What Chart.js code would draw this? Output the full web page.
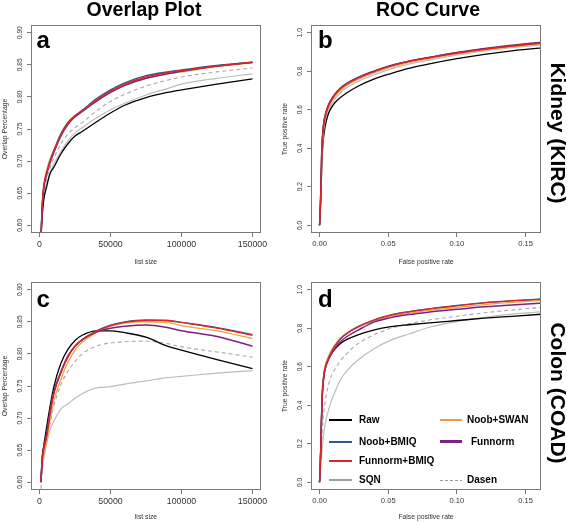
<!DOCTYPE html>
<html><head><meta charset="utf-8">
<script src="https://cdn.jsdelivr.net/npm/chart.js@4.4.1/dist/chart.umd.min.js"></script>
<style>
html,body{margin:0;padding:0;background:#fff;}
body{width:567px;height:522px;position:relative;overflow:hidden;font-family:"Liberation Sans",Arial,Helvetica,sans-serif;}
canvas{position:absolute;}
.t{position:absolute;transform:translate(-50%,-50%);white-space:nowrap;line-height:1;font-weight:bold;color:#000;}
.lt{position:absolute;white-space:nowrap;line-height:1;font-weight:bold;color:#000;}
.lg{position:absolute;}
</style></head><body>
<canvas id="ca" width="280" height="268" style="left:0;top:0"></canvas>
<canvas id="cb" width="287" height="268" style="left:280px;top:0"></canvas>
<canvas id="cc" width="280" height="266" style="left:0;top:256px"></canvas>
<canvas id="cd" width="287" height="266" style="left:280px;top:256px"></canvas>
<div id="texts"></div>
<script>
// ---------- DATA ----------
const listSize = [1000, 2000, 3000, 5000, 7500, 10000, 15000, 20000, 25000, 30000, 40000, 50000, 60000, 75000, 90000, 100000, 125000, 150000];
const fpr = [0, 0.0005, 0.001, 0.0015, 0.002, 0.003, 0.004, 0.006, 0.008, 0.011, 0.015, 0.02, 0.028, 0.04, 0.052, 0.065, 0.08, 0.1, 0.12, 0.14, 0.17];

// Panel a: Kidney (KIRC) overlap
const kircOverlapRaw        = [0.580, 0.617, 0.640, 0.660, 0.681, 0.690, 0.711, 0.727, 0.739, 0.746, 0.761, 0.775, 0.787, 0.799, 0.807, 0.811, 0.820, 0.828];
const kircOverlapNoobBMIQ   = [0.580, 0.635, 0.661, 0.682, 0.701, 0.716, 0.742, 0.760, 0.771, 0.779, 0.797, 0.811, 0.822, 0.833, 0.839, 0.842, 0.849, 0.854];
const kircOverlapFunBMIQ    = [0.580, 0.633, 0.659, 0.680, 0.699, 0.714, 0.740, 0.758, 0.770, 0.778, 0.795, 0.809, 0.820, 0.831, 0.838, 0.841, 0.848, 0.854];
const kircOverlapSQN        = [0.580, 0.620, 0.645, 0.665, 0.682, 0.695, 0.715, 0.732, 0.744, 0.752, 0.767, 0.780, 0.790, 0.803, 0.813, 0.820, 0.829, 0.836];
const kircOverlapNoobSWAN   = [0.580, 0.638, 0.664, 0.686, 0.704, 0.717, 0.743, 0.761, 0.771, 0.779, 0.794, 0.807, 0.818, 0.829, 0.836, 0.839, 0.847, 0.853];
const kircOverlapFunnorm    = [0.580, 0.632, 0.658, 0.679, 0.698, 0.713, 0.739, 0.757, 0.769, 0.777, 0.793, 0.807, 0.818, 0.829, 0.836, 0.840, 0.848, 0.854];
const kircOverlapDasen      = [0.580, 0.625, 0.651, 0.672, 0.690, 0.704, 0.727, 0.742, 0.752, 0.760, 0.778, 0.793, 0.804, 0.817, 0.826, 0.831, 0.839, 0.845];

// Panel c: Colon (COAD) overlap
const coadOverlapRaw        = [0.605, 0.641, 0.657, 0.686, 0.719, 0.748, 0.785, 0.807, 0.821, 0.829, 0.836, 0.836, 0.833, 0.826, 0.812, 0.806, 0.791, 0.777];
const coadOverlapNoobBMIQ   = [0.600, 0.638, 0.653, 0.673, 0.710, 0.738, 0.771, 0.796, 0.812, 0.822, 0.836, 0.845, 0.850, 0.853, 0.852, 0.849, 0.841, 0.830];
const coadOverlapFunBMIQ    = [0.600, 0.637, 0.652, 0.671, 0.708, 0.737, 0.770, 0.795, 0.812, 0.822, 0.835, 0.844, 0.849, 0.852, 0.852, 0.849, 0.840, 0.829];
const coadOverlapSQN        = [0.600, 0.625, 0.639, 0.660, 0.682, 0.695, 0.714, 0.722, 0.731, 0.738, 0.747, 0.749, 0.753, 0.758, 0.763, 0.765, 0.770, 0.774];
const coadOverlapNoobSWAN   = [0.600, 0.628, 0.643, 0.662, 0.698, 0.726, 0.760, 0.787, 0.806, 0.818, 0.833, 0.843, 0.848, 0.850, 0.849, 0.844, 0.836, 0.824];
const coadOverlapFunnorm    = [0.600, 0.640, 0.655, 0.676, 0.712, 0.740, 0.772, 0.797, 0.812, 0.822, 0.834, 0.840, 0.843, 0.845, 0.841, 0.836, 0.827, 0.812];
const coadOverlapDasen      = [0.590, 0.620, 0.637, 0.665, 0.692, 0.718, 0.752, 0.773, 0.788, 0.800, 0.812, 0.817, 0.819, 0.820, 0.816, 0.811, 0.803, 0.795];

// Panel b: Kidney (KIRC) ROC
const kircRocRaw      = [0, 0.06, 0.15, 0.28, 0.37, 0.46, 0.51, 0.570, 0.603, 0.635, 0.662, 0.688, 0.722, 0.760, 0.788, 0.815, 0.838, 0.865, 0.888, 0.906, 0.926];
const kircRocNoobBMIQ = [0, 0.08, 0.20, 0.36, 0.45, 0.53, 0.57, 0.618, 0.648, 0.680, 0.712, 0.738, 0.768, 0.802, 0.831, 0.853, 0.872, 0.896, 0.916, 0.932, 0.953];
const kircRocFunBMIQ  = [0, 0.08, 0.20, 0.35, 0.44, 0.525, 0.565, 0.612, 0.643, 0.676, 0.708, 0.735, 0.765, 0.799, 0.828, 0.851, 0.870, 0.894, 0.914, 0.931, 0.952];
const kircRocSQN      = [0, 0.06, 0.16, 0.30, 0.40, 0.49, 0.535, 0.588, 0.620, 0.653, 0.687, 0.715, 0.747, 0.782, 0.812, 0.837, 0.858, 0.883, 0.905, 0.922, 0.942];
const kircRocNoobSWAN = [0, 0.05, 0.14, 0.28, 0.38, 0.49, 0.545, 0.600, 0.632, 0.666, 0.700, 0.727, 0.758, 0.792, 0.821, 0.845, 0.865, 0.889, 0.909, 0.926, 0.946];
const kircRocFunnorm  = [0, 0.08, 0.19, 0.35, 0.44, 0.525, 0.565, 0.613, 0.645, 0.678, 0.710, 0.736, 0.766, 0.800, 0.829, 0.852, 0.872, 0.897, 0.918, 0.935, 0.956];
const kircRocDasen    = [0, 0.07, 0.18, 0.33, 0.42, 0.51, 0.553, 0.603, 0.635, 0.668, 0.700, 0.728, 0.759, 0.794, 0.824, 0.848, 0.868, 0.892, 0.913, 0.930, 0.950];

// Panel d: Colon (COAD) ROC
const coadRocRaw      = [0, 0.08, 0.21, 0.35, 0.46, 0.55, 0.595, 0.640, 0.665, 0.690, 0.720, 0.742, 0.766, 0.792, 0.808, 0.818, 0.828, 0.840, 0.852, 0.862, 0.877];
const coadRocNoobBMIQ = [0, 0.08, 0.20, 0.34, 0.45, 0.54, 0.589, 0.633, 0.666, 0.704, 0.743, 0.774, 0.808, 0.844, 0.869, 0.886, 0.901, 0.918, 0.933, 0.943, 0.955];
const coadRocFunBMIQ  = [0, 0.08, 0.20, 0.34, 0.45, 0.54, 0.588, 0.632, 0.665, 0.703, 0.742, 0.773, 0.807, 0.843, 0.868, 0.885, 0.900, 0.917, 0.932, 0.942, 0.954];
const coadRocSQN      = [0, 0.04, 0.09, 0.13, 0.175, 0.25, 0.30, 0.360, 0.410, 0.465, 0.530, 0.580, 0.635, 0.695, 0.738, 0.770, 0.805, 0.835, 0.857, 0.873, 0.890];
const coadRocNoobSWAN = [0, 0.09, 0.22, 0.36, 0.47, 0.555, 0.60, 0.645, 0.677, 0.712, 0.748, 0.776, 0.806, 0.838, 0.861, 0.878, 0.893, 0.909, 0.923, 0.934, 0.947];
const coadRocFunnorm  = [0, 0.08, 0.20, 0.34, 0.45, 0.54, 0.585, 0.628, 0.658, 0.692, 0.728, 0.757, 0.790, 0.833, 0.855, 0.871, 0.884, 0.898, 0.911, 0.921, 0.933];
const coadRocDasen    = [0, 0.05, 0.12, 0.20, 0.27, 0.36, 0.41, 0.490, 0.540, 0.585, 0.628, 0.670, 0.720, 0.767, 0.800, 0.823, 0.843, 0.862, 0.880, 0.895, 0.913];

// tick labels
const overlapXTicks = [0, 50000, 100000, 150000];
const overlapYTicks = [0.60, 0.65, 0.70, 0.75, 0.80, 0.85, 0.90];
const rocXTicks = [0, 0.05, 0.10, 0.15];
const rocYTicks = [0, 0.2, 0.4, 0.6, 0.8, 1.0];

const methodNames = ['Raw', 'Noob+BMIQ', 'Funnorm+BMIQ', 'SQN', 'Noob+SWAN', 'Funnorm', 'Dasen'];
const legendEntries = ['Raw', 'Noob+BMIQ', 'Funnorm+BMIQ', 'SQN', 'Noob+SWAN', 'Funnorm', '', 'Dasen'];

// ---------- STYLES ----------
const STYLE = {
  'Raw':          {color:'#000000', width:1.3, legendColor:'#000000', legendWidth:2},
  'Noob+BMIQ':    {color:'#2E5B8C', width:1.3, legendColor:'#2E5B8C', legendWidth:2},
  'Funnorm+BMIQ': {color:'#D9262B', width:1.3, legendColor:'#D9262B', legendWidth:2},
  'SQN':          {color:'#BDBDBD', width:1.2, legendColor:'#9E9E9E', legendWidth:2},
  'Noob+SWAN':    {color:'#F5A33A', width:1.3, legendColor:'#EB9A4A', legendWidth:2},
  'Funnorm':      {color:'#7D2181', width:1.5, legendColor:'#7D2181', legendWidth:3},
  'Dasen':        {color:'#A8A8A8', width:1.1, dash:[4,3], legendColor:'#999999', legendWidth:1}
};
const DRAW_ORDER = ['SQN', 'Dasen', 'Raw', 'Noob+SWAN', 'Noob+BMIQ', 'Funnorm', 'Funnorm+BMIQ'];
const FONT = '"Liberation Sans", Arial, Helvetica, sans-serif';

const panelSeries = {
  a: {xs: listSize, s: {'Raw':kircOverlapRaw,'Noob+BMIQ':kircOverlapNoobBMIQ,'Funnorm+BMIQ':kircOverlapFunBMIQ,'SQN':kircOverlapSQN,'Noob+SWAN':kircOverlapNoobSWAN,'Funnorm':kircOverlapFunnorm,'Dasen':kircOverlapDasen}},
  b: {xs: fpr, s: {'Raw':kircRocRaw,'Noob+BMIQ':kircRocNoobBMIQ,'Funnorm+BMIQ':kircRocFunBMIQ,'SQN':kircRocSQN,'Noob+SWAN':kircRocNoobSWAN,'Funnorm':kircRocFunnorm,'Dasen':kircRocDasen}},
  c: {xs: listSize, s: {'Raw':coadOverlapRaw,'Noob+BMIQ':coadOverlapNoobBMIQ,'Funnorm+BMIQ':coadOverlapFunBMIQ,'SQN':coadOverlapSQN,'Noob+SWAN':coadOverlapNoobSWAN,'Funnorm':coadOverlapFunnorm,'Dasen':coadOverlapDasen}},
  d: {xs: fpr, s: {'Raw':coadRocRaw,'Noob+BMIQ':coadRocNoobBMIQ,'Funnorm+BMIQ':coadRocFunBMIQ,'SQN':coadRocSQN,'Noob+SWAN':coadRocNoobSWAN,'Funnorm':coadRocFunnorm,'Dasen':coadRocDasen}}
};

const boxPlugin = {
  id: 'rbox',
  afterDatasetsDraw(chart) {
    const {ctx, chartArea: a} = chart;
    ctx.save();
    ctx.strokeStyle = '#7a7a7a';
    ctx.lineWidth = 1;
    ctx.strokeRect(Math.round(a.left) + 0.5, Math.round(a.top) + 0.5, Math.round(a.right - a.left) - 1, Math.round(a.bottom - a.top) - 1);
    ctx.restore();
  }
};

const GRID = {display:true, drawOnChartArea:false, drawTicks:true, tickLength:4, color:'#7a7a7a', lineWidth:1};

function makeChart(id, key, cfg) {
  const P = panelSeries[key];
  const datasets = DRAW_ORDER.map((name, i) => ({
    label: name,
    data: P.xs.map((x, j) => ({x: x, y: P.s[name][j]})),
    borderColor: STYLE[name].color,
    borderWidth: STYLE[name].width,
    borderDash: STYLE[name].dash || [],
    pointRadius: 0,
    fill: false,
    cubicInterpolationMode: 'monotone',
    order: DRAW_ORDER.length - i
  }));
  return new Chart(document.getElementById(id), {
    type: 'line',
    data: {datasets},
    options: {
      responsive: false, animation: false, events: [],
      layout: {padding: cfg.padding},
      plugins: {legend: {display:false}, tooltip: {enabled:false}, title: {display:false}},
      scales: {
        x: {
          type: 'linear', min: cfg.xmin, max: cfg.xmax,
          afterBuildTicks: s => { s.ticks = cfg.xticks.map(v => ({value: v})); },
          afterFit: s => { s.height = cfg.xh; },
          ticks: {callback: cfg.xfmt, autoSkip: false, maxRotation: 0, minRotation: 0, padding: cfg.xtpad,
                  font: {family: FONT, size: cfg.xfs}, color: '#333'},
          grid: GRID, border: {display: false},
          title: {display: true, text: cfg.xtitle, color: '#333', font: {family: FONT, size: 6.8},
                  padding: {top: 0, bottom: cfg.xtitlePad}}
        },
        y: {
          type: 'linear', min: cfg.ymin, max: cfg.ymax,
          afterBuildTicks: s => { s.ticks = cfg.yticks.map(v => ({value: v})); },
          afterFit: s => { s.width = 31; },
          ticks: {callback: cfg.yfmt, autoSkip: false, minRotation: 90, maxRotation: 90, crossAlign: 'center',
                  padding: cfg.ytpad, font: {family: FONT, size: 6.6}, color: '#333'},
          grid: GRID, border: {display: false},
          title: {display: true, text: cfg.ytitle, color: '#333', font: {family: FONT, size: 6.8},
                  padding: {top: 1, bottom: 0}}
        }
      }
    },
    plugins: [boxPlugin]
  });
}

const overlapCommon = {xmin: -6000, xmax: 156000, ymin: 0.588, ymax: 0.912, xticks: overlapXTicks, yticks: overlapYTicks,
  xfmt: v => String(v), yfmt: v => Number(v).toFixed(2), xtitle: 'list size', ytitle: 'Overlap Percentage', xfs: 8.8, ytpad: 0.5};
const rocCommon = {xmin: -0.0062, xmax: 0.1612, ymin: -0.04, ymax: 1.04, xticks: rocXTicks, yticks: rocYTicks,
  xfmt: v => Number(v).toFixed(2), yfmt: v => Number(v).toFixed(1), xtitle: 'False positive rate', ytitle: 'True positive rate', xfs: 7.6, ytpad: 1.8};

makeChart('ca', 'a', Object.assign({}, overlapCommon, {padding: {top:25, right:19, bottom:0, left:0}, xh: 35, xtpad: 2.5, xtitlePad: 2}));
makeChart('cb', 'b', Object.assign({}, rocCommon,     {padding: {top:25, right:26, bottom:0, left:0}, xh: 35, xtpad: 2.5, xtitlePad: 2}));
makeChart('cc', 'c', Object.assign({}, overlapCommon, {padding: {top:26, right:19, bottom:0, left:0}, xh: 32, xtpad: 2, xtitlePad: 1.3}));
makeChart('cd', 'd', Object.assign({}, rocCommon,     {padding: {top:26, right:26, bottom:0, left:0}, xh: 32, xtpad: 2, xtitlePad: 1.3}));

// ---------- TEXT LABELS ----------
const texts = document.getElementById('texts');
function addText(txt, x, y, size, rot) {
  const d = document.createElement('div');
  d.className = 't';
  d.textContent = txt;
  d.style.left = x + 'px'; d.style.top = y + 'px'; d.style.fontSize = size + 'px';
  if (rot) d.style.transform = 'translate(-50%,-50%) rotate(' + rot + 'deg)';
  texts.appendChild(d);
}
addText('Overlap Plot', 144, 9.5, 19.5);
addText('ROC Curve', 428, 9.5, 19.5);
addText('Kidney (KIRC)', 557.5, 133, 21, 90);
addText('Colon (COAD)', 557.5, 393, 21, 90);

function addLetter(txt, x, baseline) {
  const d = document.createElement('div');
  d.className = 'lt';
  const fs = 24;
  d.textContent = txt;
  d.style.fontSize = fs + 'px';
  d.style.left = x + 'px';
  d.style.top = (baseline - 0.8465 * fs) + 'px';
  texts.appendChild(d);
}
addLetter('a', 36.5, 48.5);
addLetter('b', 318, 48.5);
addLetter('c', 36.5, 307);
addLetter('d', 318, 307);

// legend for panel d (two columns, filled column-wise)
const legendCols = [{lineX: 329, lineW: 23, textX: 359}, {lineX: 440, lineW: 22, textX: 467}];
const legendRows = [420, 441.5, 461, 480];
legendEntries.forEach((name, i) => {
  if (!name) return;
  const col = legendCols[Math.floor(i / 4)];
  const y = legendRows[i % 4];
  const st = STYLE[name];
  const ln = document.createElement('div');
  ln.className = 'lg';
  ln.style.left = col.lineX + 'px';
  ln.style.width = col.lineW + 'px';
  ln.style.height = st.legendWidth + 'px';
  ln.style.top = Math.round(y - st.legendWidth / 2) + 'px';
  ln.style.background = st.dash
    ? 'repeating-linear-gradient(to right,' + st.legendColor + ' 0 3px, transparent 3px 5px)'
    : st.legendColor;
  texts.appendChild(ln);
  const tx = document.createElement('div');
  tx.className = 'lt';
  tx.textContent = name;
  tx.style.fontSize = '10px';
  tx.style.left = (col.textX + (name === 'Funnorm' ? 4 : 0)) + 'px';
  tx.style.top = (y - 5) + 'px';
  texts.appendChild(tx);
});
</script>
</body></html>
